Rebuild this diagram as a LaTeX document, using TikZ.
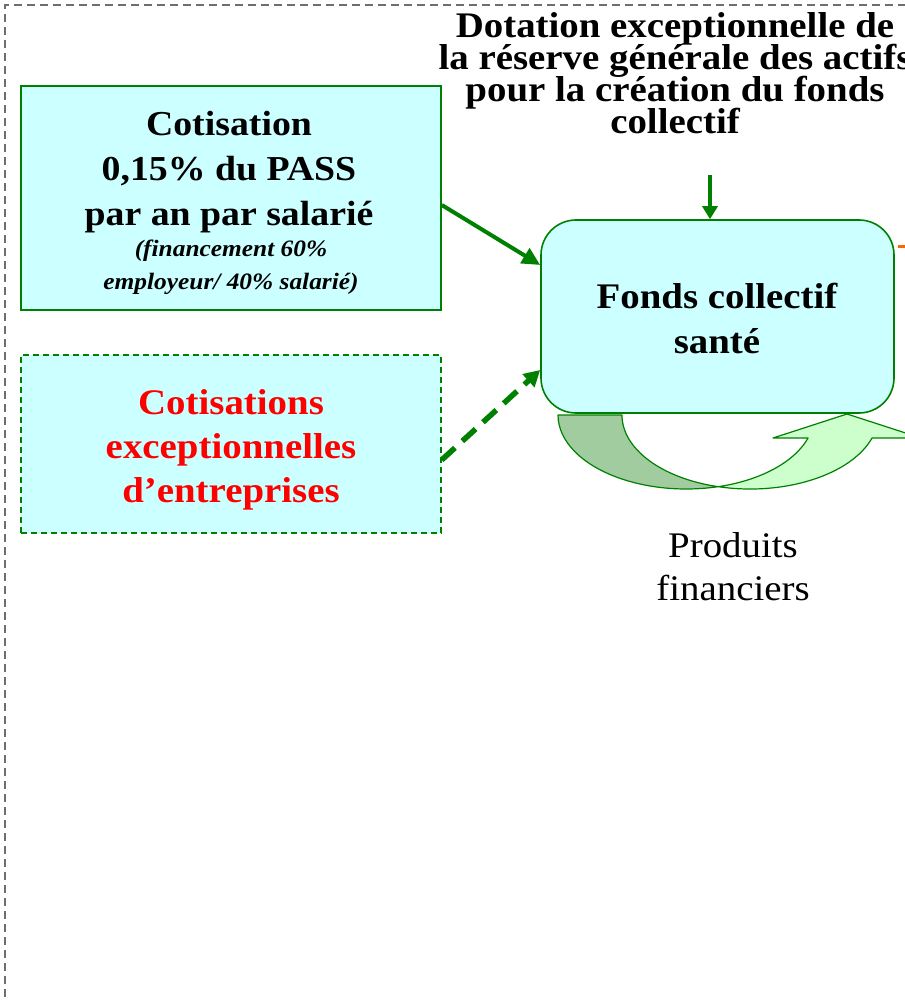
\documentclass[tikz,border=0pt]{standalone}
\usepackage{fontspec}
\setmainfont{Liberation Serif}[FakeStretch=1.08]
\usetikzlibrary{arrows.meta}
\definecolor{boxfill}{HTML}{CCFFFF}
\definecolor{dkgreen}{HTML}{008000}
\definecolor{bandDark}{RGB}{160,204,160}
\definecolor{bandLight}{HTML}{CCFFCC}
\definecolor{frameGray}{HTML}{6E6E6E}
\definecolor{orangeLine}{HTML}{FF6600}
\definecolor{redText}{HTML}{FF0000}
\newcommand\mytightlines{\lineskiplimit=-60pt\relax\lineskip=0pt\relax}
\begin{document}
\begin{tikzpicture}[x=1pt,y=-1pt,
  frameline/.style={draw=frameGray, line width=1.3pt, dash pattern=on 8pt off 5pt},
  sqbox/.style={draw=dkgreen, fill=boxfill, line width=1.6pt, inner sep=0pt},
  dashbox/.style={draw=dkgreen, fill=boxfill, line width=1.3pt, dash pattern=on 6pt off 4pt, inner sep=0pt},
  roundbox/.style={draw=dkgreen, fill=boxfill, line width=1.6pt, rounded corners=35pt, inner sep=0pt},
  bigtxt/.style={font=\fontsize{36}{44}\selectfont\bfseries, align=center, inner sep=0pt},
  titletxt/.style={font=\fontsize{36}{31.8}\selectfont\bfseries\mytightlines, align=center, inner sep=0pt},
  subtxt/.style={font=\fontsize{23.5}{33}\selectfont\bfseries\itshape, align=center, inner sep=0pt},
  plaintxt/.style={font=\fontsize{36}{43}\selectfont, align=center, inner sep=0pt},
  flowarrow/.style={draw=dkgreen, line width=4pt, -{Triangle[length=18pt,width=17pt]}},
  dashflow/.style={draw=dkgreen, line width=5.5pt, dash pattern=on 18pt off 10pt, -{Triangle[length=16pt,width=17pt]}},
  smallarrow/.style={draw=dkgreen, line width=3.2pt, -{Triangle[length=13pt,width=15pt]}},
  band/.style={draw=dkgreen, line width=1.2pt, line join=round},
  orangemark/.style={draw=orangeLine, line width=3pt}
]
\useasboundingbox (0,0) rectangle (904,1000);

% outer dashed frame
\draw[frameline] (5,1010) -- (5,5) -- (910,5);

% title
\node[titletxt] (title) at (675,73) {Dotation exceptionnelle de\\la réserve générale des actifs\\pour la création du fonds\\collectif};

% curved arrow (produits financiers)
\filldraw[band, fill=bandDark] (558,415)
  arc[start angle=180, end angle=75.6, x radius=128.2, y radius=74]
  arc[start angle=104.5, end angle=180, x radius=128.2, y radius=74] -- cycle;
\filldraw[band, fill=bandLight] (718.1,486.7)
  arc[start angle=75.6, end angle=18.1, x radius=128.2, y radius=74]
  -- (773,438) -- (847,414) -- (921,438) -- (872.05,438)
  arc[start angle=18.1, end angle=104.5, x radius=128.2, y radius=74] -- cycle;

% boxes
\node[sqbox, minimum width=420pt, minimum height=224pt] (cot) at (231,198) {};
\node[bigtxt, font=\fontsize{35}{45}\selectfont\bfseries] (cotmain) at (229,172) {Cotisation\\0,15\% du PASS\\par an par salarié};
\node[subtxt] (cotsub) at (231,267) {(financement 60\%\\employeur/ 40\% salarié)};

\node[dashbox, minimum width=420pt, minimum height=178pt] (exc) at (231,444) {};
\node[bigtxt, text=redText] (exctxt) at (231,450) {Cotisations\\exceptionnelles\\d’entreprises};

\node[roundbox, minimum width=353pt, minimum height=193pt] (fonds) at (717.5,316.5) {};
\node[bigtxt] (fondstxt) at (717,318.5) {Fonds collectif\\santé};

\node[plaintxt] (prod) at (733,566.5) {Produits\\financiers};

% connectors
\draw[flowarrow] ([yshift=-7pt]cot.east) -- ([yshift=51.5pt]fonds.west);
\draw[dashflow] ([yshift=-16pt]exc.east) -- ([yshift=-53.5pt]fonds.west);
\coordinate (dotTop) at (710,175);
\draw[smallarrow] (dotTop) -- (dotTop |- fonds.north);
\coordinate (orEnd) at (910,246);
\draw[orangemark] ([xshift=3pt]fonds.east |- orEnd) -- (orEnd);
\end{tikzpicture}
\end{document}
